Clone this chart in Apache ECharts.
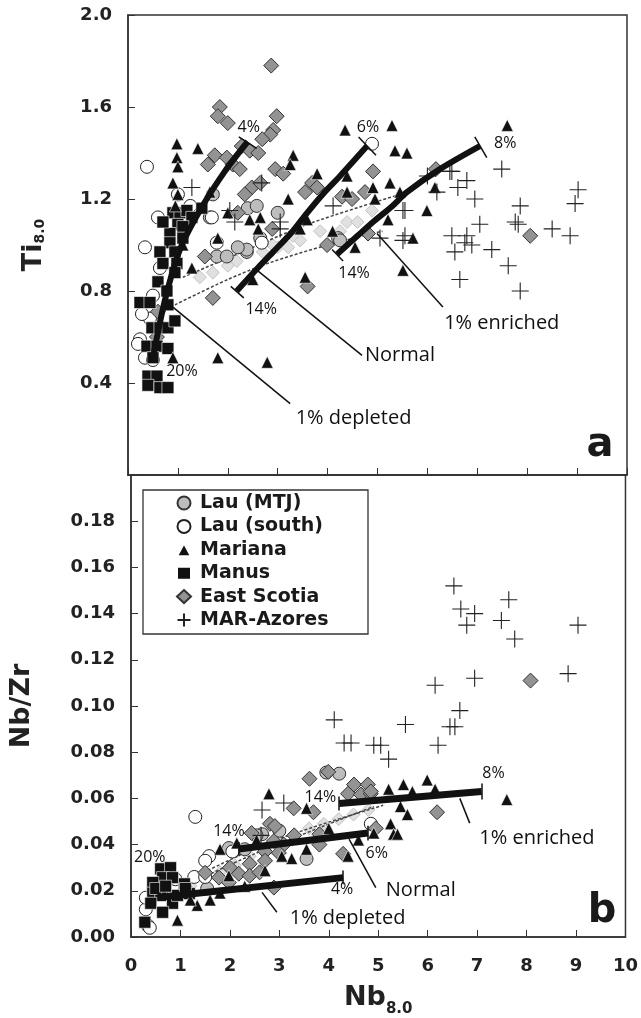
<!DOCTYPE html>
<html><head><meta charset="utf-8">
<script src="https://cdn.jsdelivr.net/npm/echarts@6/dist/echarts.min.js"></script>
<style>html,body{margin:0;padding:0;background:#fff}#c{width:641px;height:1018px}</style>
</head><body><div id="c"></div>
<script>
// ---------- Panel a: Ti8.0 vs Nb8.0 ----------
const lauMtjTop = [[1.70,1.22],[2.40,1.16],[2.58,1.17],[3.00,1.14],[2.38,0.97],[1.78,0.95],[1.98,0.95],[2.38,0.98],[2.65,1.03],[4.21,1.03],[1.64,1.12],[4.25,1.02],[2.2,0.99]];
const lauSouthTop = [[0.38,1.34],[1.0,1.22],[1.25,1.17],[1.68,1.12],[4.89,1.44],[0.34,0.99],[0.64,0.90],[0.44,0.68],[0.24,0.59],[0.20,0.57],[0.34,0.51],[0.50,0.50],[0.28,0.70],[2.68,1.01],[1.78,1.01],[0.5,0.78],[0.6,1.12]];
const marianaTop = [[0.98,1.44],[0.98,1.38],[1.40,1.42],[1.0,1.34],[0.90,1.27],[1.0,1.22],[3.31,1.39],[3.25,1.35],[3.21,1.20],[3.79,1.31],[3.59,1.11],[2.44,1.11],[2.65,1.12],[2.00,1.14],[2.61,1.07],[4.39,1.30],[1.64,1.23],[4.35,1.50],[5.29,1.52],[5.35,1.41],[5.59,1.40],[5.25,1.27],[4.91,1.25],[4.39,1.23],[3.45,1.07],[4.95,1.20],[5.45,1.23],[5.99,1.15],[6.15,1.25],[5.71,1.03],[4.55,0.99],[5.51,0.89],[3.55,0.86],[2.50,0.85],[7.60,1.52],[5.21,1.11],[1.80,1.03],[1.28,0.90],[0.90,0.51],[1.80,0.51],[2.79,0.49],[4.1,1.06],[0.95,1.17],[1.1,1.0]];
const manusTop = [[0.90,1.14],[1.04,1.14],[1.18,1.15],[1.48,1.16],[1.28,1.12],[1.0,1.09],[1.10,1.08],[0.84,1.05],[0.84,1.01],[0.64,0.97],[0.94,0.97],[0.98,0.92],[0.70,0.92],[0.94,0.88],[0.60,0.84],[0.78,0.80],[0.24,0.75],[0.44,0.75],[0.80,0.74],[0.48,0.64],[0.64,0.64],[0.80,0.64],[0.94,0.67],[0.38,0.56],[0.58,0.56],[0.80,0.55],[0.50,0.51],[0.40,0.43],[0.58,0.43],[0.40,0.39],[0.64,0.38],[0.80,0.38],[1.1,1.03],[0.7,1.1]];
const eastScotiaTop = [[2.87,1.78],[1.84,1.60],[1.80,1.56],[2.00,1.53],[2.98,1.56],[2.91,1.50],[2.85,1.48],[2.69,1.46],[2.28,1.43],[2.44,1.41],[2.61,1.40],[1.74,1.39],[1.98,1.38],[1.60,1.35],[2.10,1.35],[2.24,1.33],[2.95,1.33],[3.11,1.31],[2.48,1.25],[2.65,1.27],[2.34,1.22],[2.20,1.14],[2.89,1.07],[3.69,1.27],[3.55,1.23],[4.29,1.21],[4.49,1.20],[4.75,1.23],[4.91,1.32],[3.79,1.25],[6.17,1.33],[3.99,1.00],[4.81,1.05],[3.60,0.82],[1.54,0.95],[1.70,0.77],[0.60,0.71],[0.58,0.60],[8.06,1.04]];
const marAzoresTop = [[7.49,1.33],[6.49,1.32],[6.79,1.28],[6.61,1.25],[6.95,1.20],[6.19,1.23],[5.55,1.15],[7.86,1.17],[9.02,1.24],[8.96,1.18],[7.05,1.09],[7.76,1.10],[7.82,1.09],[8.50,1.07],[8.86,1.04],[6.49,1.04],[6.79,1.04],[5.55,1.04],[6.75,1.01],[6.89,1.00],[6.55,0.97],[7.29,0.98],[7.62,0.91],[6.65,0.85],[7.86,0.80],[5.51,1.02],[1.28,1.25],[2.68,1.27],[2.04,1.15],[2.14,1.10],[4.11,1.17],[3.05,1.07],[5.51,1.15],[5.05,1.03],[6.45,1.32],[3.05,1.10],[6.0,1.30]];
const modelMarkersTop = [[1.44,0.86],[1.7,0.88],[2.0,0.91],[2.18,0.93],[2.38,0.965],[2.7,0.97],[3.0,0.99],[3.21,0.99],[3.45,1.02],[3.85,1.06],[4.25,1.06],[4.39,1.10],[4.6,1.10],[4.89,1.15],[2.9,1.0],[3.3,1.04]];
const depletedTop = [[0.50,0.51],[0.74,0.76],[1.04,0.98],[1.44,1.15],[1.94,1.32],[2.40,1.45]];
const normalTop = [[2.18,0.80],[2.60,0.90],[2.91,0.97],[3.30,1.06],[3.59,1.14],[3.90,1.22],[4.25,1.30],[4.79,1.43]];
const enrichedTop = [[4.19,0.96],[4.60,1.04],[4.91,1.10],[5.30,1.17],[5.59,1.23],[6.25,1.33],[7.05,1.43]];
const mixATop = [[0.94,0.74],[2.0,0.85],[2.8,0.92],[4.0,1.0],[5.1,1.06]];
const mixBTop = [[1.10,0.86],[2.24,0.965],[3.6,1.09],[5.45,1.22]];
const endTicksTop = [[[2.22,1.47],[2.58,1.42]],[[4.62,1.47],[4.97,1.39]],[[6.95,1.47],[7.19,1.38]],[[2.06,0.82],[2.32,0.77]],[[4.09,0.98],[4.31,0.93]]];
const leadersTop = [[[0.90,0.73],[3.25,0.31]],[[2.59,0.89],[4.69,0.52]],[[4.99,1.05],[6.31,0.73]]];
const labelsTop = [[4.52,0.245,'1% depleted'],[5.45,0.52,'Normal'],[7.49,0.66,'1% enriched']];
const pctTop = [[2.42,1.51,'4%'],[4.81,1.51,'6%'],[7.56,1.44,'8%'],[2.67,0.72,'14%'],[4.53,0.875,'14%'],[1.08,0.45,'20%']];

// ---------- Panel b: Nb/Zr vs Nb8.0 ----------
const lauMtjBot = [[4.21,0.0707],[3.95,0.0712],[1.98,0.0385],[2.65,0.0445],[3.55,0.0338],[2.54,0.044],[1.54,0.021],[1.10,0.021],[3.0,0.046],[2.3,0.038]];
const lauSouthBot = [[1.30,0.052],[1.58,0.035],[1.50,0.033],[0.30,0.012],[0.34,0.005],[0.38,0.004],[0.64,0.021],[1.28,0.026],[1.50,0.026],[0.30,0.017],[0.9,0.025],[2.05,0.037],[4.85,0.049]];
const marianaBot = [[2.79,0.062],[3.55,0.0557],[1.80,0.038],[2.14,0.0407],[2.54,0.042],[3.55,0.038],[3.25,0.034],[0.94,0.0073],[1.34,0.0137],[1.80,0.019],[1.98,0.0265],[2.71,0.0287],[3.05,0.035],[4.39,0.035],[5.21,0.064],[5.51,0.066],[5.69,0.063],[5.99,0.068],[6.15,0.064],[5.45,0.0565],[5.59,0.053],[5.25,0.049],[5.31,0.0445],[4.91,0.045],[7.60,0.0595],[5.39,0.0445],[1.2,0.016],[1.6,0.016],[2.3,0.022],[4.6,0.042],[4.0,0.047]];
const manusBot = [[0.60,0.0295],[0.80,0.030],[0.64,0.0257],[0.84,0.0257],[0.44,0.0236],[1.08,0.023],[0.44,0.019],[0.60,0.018],[0.84,0.0146],[0.40,0.0146],[0.64,0.0107],[0.28,0.0064],[0.94,0.018],[1.18,0.0188],[1.10,0.021],[0.50,0.021],[0.70,0.022]];
const eastScotiaBot = [[3.61,0.0685],[3.99,0.0715],[4.51,0.066],[4.79,0.066],[4.39,0.062],[4.65,0.0617],[4.85,0.062],[3.29,0.0557],[3.69,0.054],[2.81,0.049],[2.91,0.048],[2.44,0.045],[2.89,0.0415],[3.09,0.040],[2.71,0.037],[2.99,0.0364],[2.71,0.033],[2.40,0.0317],[2.18,0.0274],[2.40,0.0265],[2.89,0.0214],[1.98,0.0236],[3.81,0.0445],[3.81,0.040],[4.29,0.036],[1.50,0.0278],[1.78,0.0257],[0.58,0.021],[4.85,0.063],[6.19,0.054],[4.95,0.047],[8.08,0.111],[2.0,0.030],[2.6,0.028],[3.3,0.044]];
const marAzoresBot = [[6.53,0.152],[7.64,0.146],[6.67,0.142],[6.95,0.140],[6.79,0.135],[7.49,0.137],[7.76,0.129],[9.04,0.135],[8.84,0.114],[6.95,0.112],[6.15,0.109],[6.65,0.098],[5.55,0.092],[6.45,0.091],[6.55,0.091],[6.21,0.083],[5.05,0.083],[5.21,0.077],[4.11,0.094],[4.45,0.084],[4.91,0.083],[4.31,0.084],[2.65,0.055],[3.09,0.058],[2.63,0.044]];
const modelMarkersBot = [[1.0,0.019],[1.2,0.022],[1.5,0.025],[1.8,0.028],[2.1,0.031],[2.4,0.035],[2.7,0.038],[3.0,0.041],[3.3,0.044],[3.6,0.047],[3.9,0.049],[4.2,0.051],[4.5,0.053],[4.8,0.055]];
const depletedBot = [[0.54,0.0171],[4.29,0.0257]];
const normalBot = [[2.18,0.0381],[4.79,0.045]];
const enrichedBot = [[4.21,0.0578],[7.09,0.063]];
const mixABot = [[0.98,0.021],[2.5,0.036],[4.91,0.0565]];
const mixBBot = [[1.10,0.024],[2.8,0.041],[5.10,0.057]];
const endTicksBot = [[[4.29,0.0228],[4.29,0.0288]],[[4.79,0.0418],[4.79,0.0482]],[[7.09,0.0595],[7.09,0.0665]],[[4.21,0.0548],[4.21,0.0608]],[[2.18,0.035],[2.18,0.041]]];
const leadersBot = [[[2.65,0.0193],[2.95,0.0107]],[[4.41,0.0424],[4.95,0.0214]],[[6.65,0.060],[6.85,0.0493]]];
const labelsBot = [[4.38,0.0081,'1% depleted'],[5.86,0.0201,'Normal'],[8.21,0.0428,'1% enriched']];
const pctBot = [[0.38,0.0343,'20%'],[1.98,0.0458,'14%'],[3.83,0.0604,'14%'],[4.27,0.0206,'4%'],[4.97,0.036,'6%'],[7.33,0.0707,'8%']];

const NUM_FONT = 'DejaVu Sans';
const crossPath = 'path://M0,6 L12,6 M6,0 L6,12';

const styles = {
  'Lau (MTJ)':   {symbol:'circle',  size:13, item:{color:'#bdbdbd', borderColor:'#333', borderWidth:1, opacity:1}},
  'Lau (south)': {symbol:'circle',  size:13, item:{color:'#fff', borderColor:'#222', borderWidth:1, opacity:1}},
  'Mariana':     {symbol:'triangle',size:12, item:{color:'#111', borderColor:'#fff', borderWidth:0.6, opacity:1}},
  'Manus':       {symbol:'rect',    size:12, item:{color:'#111', borderColor:'#fff', borderWidth:0.6, opacity:1}},
  'East Scotia': {symbol:'diamond', size:15, item:{color:'#939393', borderColor:'#333', borderWidth:1, opacity:1}},
  'MAR-Azores':  {symbol:crossPath, size:17, item:{color:'rgba(0,0,0,0)', borderColor:'#222', borderWidth:1.1, opacity:1}}
};

function scat(name, data, idx, z) {
  const s = styles[name];
  return {type:'scatter', name, xAxisIndex:idx, yAxisIndex:idx, data, symbol:s.symbol, symbolSize:s.size,
    itemStyle:s.item, z, silent:true, emphasis:{disabled:true}};
}
function modelLine(data, idx, w, smooth) {
  return {type:'line', xAxisIndex:idx, yAxisIndex:idx, data, smooth, showSymbol:false, symbol:'none',
    lineStyle:{color:'#111', width:w}, z:20, silent:true, emphasis:{disabled:true}};
}
function dashLine(data, idx, smooth) {
  return {type:'line', xAxisIndex:idx, yAxisIndex:idx, data, smooth, showSymbol:false, symbol:'none',
    lineStyle:{color:'#444', width:1.5, type:[3,2]}, z:3, silent:true};
}
function segs(arr, idx) {
  return {type:'lines', coordinateSystem:'cartesian2d', xAxisIndex:idx, yAxisIndex:idx,
    data:arr.map(c=>({coords:c})), lineStyle:{color:'#111', width:1.5, opacity:1}, z:21, silent:true};
}
function texts(arr, idx, size) {
  return {type:'scatter', xAxisIndex:idx, yAxisIndex:idx, symbolSize:1, z:22, silent:true,
    itemStyle:{color:'rgba(0,0,0,0)', opacity:1},
    data:arr.map(a=>({value:[a[0],a[1]], name:a[2]})),
    label:{show:true, position:'inside', formatter:p=>p.name, fontFamily:'Open Sans', fontSize:size, color:'#111', opacity:1}};
}
function markers(data, idx) {
  return {type:'scatter', xAxisIndex:idx, yAxisIndex:idx, data, symbol:'diamond', symbolSize:13,
    itemStyle:{color:'#e0e0e0', borderColor:'#c4c4c4', borderWidth:1, opacity:1}, z:2, silent:true};
}

const axisLineStyle = {color:'#333', width:1.5};
const numLabel = {fontFamily:NUM_FONT, fontWeight:'bold', fontSize:18, color:'#222'};

const option = {
  animation:false,
  backgroundColor:'#fff',
  grid:[
    {left:128, right:14, top:15, height:460, show:true, borderColor:'#333', borderWidth:1.5},
    {left:128, right:14, top:475, height:467, show:true, borderColor:'#333', borderWidth:1.5}
  ],
  xAxis:[
    {gridIndex:0, type:'value', min:0, max:10, interval:1, axisLine:{lineStyle:axisLineStyle},
     axisTick:{inside:true, length:7, lineStyle:{color:'#333'}}, axisLabel:{show:false}, splitLine:{show:false}},
    {gridIndex:1, type:'value', min:0, max:10, interval:1, axisLine:{lineStyle:axisLineStyle},
     axisTick:{inside:true, length:7, lineStyle:{color:'#333'}}, axisLabel:Object.assign({margin:20}, numLabel), splitLine:{show:false},
     name:'{a|Nb}{b|8.0}', nameLocation:'middle', nameGap:47,
     nameTextStyle:{rich:{a:{fontFamily:NUM_FONT, fontWeight:'bold', fontSize:27, color:'#222', verticalAlign:'bottom'},
                          b:{fontFamily:NUM_FONT, fontWeight:'bold', fontSize:15, color:'#222', verticalAlign:'bottom', padding:[0,0,-6,0]}}}}
  ],
  yAxis:[
    {gridIndex:0, type:'value', min:0, max:2, interval:0.4, axisLine:{lineStyle:axisLineStyle},
     axisTick:{inside:true, length:7, lineStyle:{color:'#333'}}, splitLine:{show:false},
     axisLabel:Object.assign({margin:16, formatter:v=> v<0.01 ? '' : v.toFixed(1)}, numLabel),
     name:'{a|Ti}{b|8.0}', nameLocation:'middle', nameRotate:90, nameGap:81,
     nameTextStyle:{rich:{a:{fontFamily:NUM_FONT, fontWeight:'bold', fontSize:27, color:'#222', verticalAlign:'bottom'},
                          b:{fontFamily:NUM_FONT, fontWeight:'bold', fontSize:14, color:'#222', verticalAlign:'bottom'}}}},
    {gridIndex:1, type:'value', min:0, max:0.2, interval:0.02, axisLine:{lineStyle:axisLineStyle},
     axisTick:{inside:true, length:7, lineStyle:{color:'#333'}}, splitLine:{show:false},
     axisLabel:Object.assign({margin:16, formatter:v=> v>0.199 ? '' : v.toFixed(2)}, numLabel),
     name:'Nb/Zr', nameLocation:'middle', nameRotate:90, nameGap:96,
     nameTextStyle:{fontFamily:NUM_FONT, fontWeight:'bold', fontSize:27, color:'#222'}}
  ],
  legend:{
    left:176, top:493, orient:'vertical', padding:0, itemWidth:14, itemHeight:13, itemGap:3.4,
    selectedMode:false, z:10,
    data:['Lau (MTJ)','Lau (south)','Mariana','Manus','East Scotia','MAR-Azores'],
    textStyle:{fontFamily:NUM_FONT, fontWeight:'bold', fontSize:19, color:'#1a1a1a', lineHeight:20, padding:[0,0,0,4]}
  },
  graphic:[
    {type:'rect', z:5, shape:{x:143, y:490, width:225, height:144}, style:{fill:'#fff', stroke:'#333', lineWidth:1.3}},
    {type:'text', z:5, style:{x:600, y:466, text:'a', fontFamily:NUM_FONT, fontWeight:'bold', fontSize:40, fill:'#1a1a1a', align:'center', verticalAlign:'bottom'}},
    {type:'text', z:5, style:{x:602, y:932, text:'b', fontFamily:NUM_FONT, fontWeight:'bold', fontSize:40, fill:'#1a1a1a', align:'center', verticalAlign:'bottom'}}
  ],
  series:[
    markers(modelMarkersTop,0), markers(modelMarkersBot,1),
    dashLine(mixATop,0,0.3), dashLine(mixBTop,0,0.3), dashLine(mixABot,1,0.3), dashLine(mixBBot,1,0.3),
    scat('Lau (MTJ)', lauMtjTop, 0, 5), scat('Lau (MTJ)', lauMtjBot, 1, 5),
    scat('Lau (south)', lauSouthTop, 0, 5), scat('Lau (south)', lauSouthBot, 1, 5),
    scat('East Scotia', eastScotiaTop, 0, 6), scat('East Scotia', eastScotiaBot, 1, 6),
    scat('Manus', manusTop, 0, 7), scat('Manus', manusBot, 1, 7),
    scat('Mariana', marianaTop, 0, 8), scat('Mariana', marianaBot, 1, 8),
    scat('MAR-Azores', marAzoresTop, 0, 9), scat('MAR-Azores', marAzoresBot, 1, 9),
    modelLine(depletedTop,0,6,0.3), modelLine(normalTop,0,6,0.3), modelLine(enrichedTop,0,6,0.3),
    modelLine(depletedBot,1,7,false), modelLine(normalBot,1,7,false), modelLine(enrichedBot,1,7,false),
    segs(endTicksTop,0), segs(leadersTop,0), segs(endTicksBot,1), segs(leadersBot,1),
    texts(labelsTop,0,20), texts(pctTop,0,16), texts(labelsBot,1,20), texts(pctBot,1,16)
  ]
};
const chart = echarts.init(document.getElementById('c'), null, {renderer:'canvas'});
chart.setOption(option);
</script></body></html>
